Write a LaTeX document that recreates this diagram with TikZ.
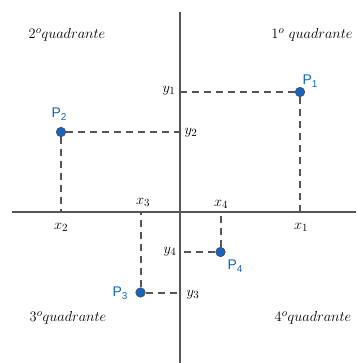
\documentclass[tikz,border=0pt]{standalone}
\usepackage{fontspec}
\newfontfamily\pfont{Liberation Sans}
\definecolor{axisgray}{HTML}{555555}
\definecolor{ptblue}{HTML}{1565C0}
\begin{document}
\begin{tikzpicture}[x=1pt,y=-1pt,
  axisline/.style={draw=axisgray,line width=2pt},
  guide/.style={draw=axisgray,line width=2pt,dash pattern=on 7pt off 5pt},
  pt/.style={circle,fill=ptblue,draw=black!70,line width=0.6pt,minimum size=9.5pt,inner sep=0pt},
  lab/.style={inner sep=0pt,font=\fontsize{15}{18}\selectfont},
  plab/.style={inner sep=0pt,text=ptblue,font=\pfont\fontsize{14}{16}\selectfont},
]
\useasboundingbox (0,0) rectangle (356,363);
% axes
\coordinate (xl) at (12,212);
\coordinate (xr) at (356,212);
\coordinate (yt) at (180,12);
\coordinate (yb) at (180,363);
\draw[axisline] (xl) -- (xr);
\draw[axisline] (yt) -- (yb);
% feet on the axes
\coordinate (f1x) at (300,212); \coordinate (f1y) at (180,92);
\coordinate (f2x) at (61,212);  \coordinate (f2y) at (180,132);
\coordinate (f3x) at (140.5,212); \coordinate (f3y) at (180,292.5);
\coordinate (f4x) at (220.5,212); \coordinate (f4y) at (180,252);
% points
\node[pt] (P1) at (300,92) {};
\node[pt] (P2) at (61,132) {};
\node[pt] (P3) at (140.5,292.5) {};
\node[pt] (P4) at (220.5,252) {};
% guide lines
\draw[guide] (P1) -- (f1y);
\draw[guide] (P1) -- (f1x);
\draw[guide] (P2) -- (f2y);
\draw[guide] (P2) -- (f2x);
\draw[guide] (P3) -- (f3y);
\draw[guide] (P3) -- (f3x);
\draw[guide] (P4) -- (f4y);
\draw[guide] (P4) -- (f4x);
% point labels
\node[plab] (L1) at (310,81) {P\raisebox{-0.45ex}{\fontsize{10}{10}\selectfont 1}};
\node[plab] (L2) at (59,114) {P\raisebox{-0.45ex}{\fontsize{10}{10}\selectfont 2}};
\node[plab] (L3) at (120,293) {P\raisebox{-0.45ex}{\fontsize{10}{10}\selectfont 3}};
\node[plab] (L4) at (235,266) {P\raisebox{-0.45ex}{\fontsize{10}{10}\selectfont 4}};
% axis value labels
\node[lab] (y1) at (169,91) {$y_1$};
\node[lab] (y2) at (191,133) {$y_2$};
\node[lab] (y3) at (193,295) {$y_3$};
\node[lab] (y4) at (170,252) {$y_4$};
\node[lab] (x1) at (301,227) {$x_1$};
\node[lab] (x2) at (61,227) {$x_2$};
\node[lab] (x3) at (143,202) {$x_3$};
\node[lab] (x4) at (221,204) {$x_4$};
% quadrant labels
\node[lab] (q2) at (67,35) {$2^o quadrante$};
\node[lab] (q1) at (312,35) {$1^o\ quadrante$};
\node[lab] (q3) at (68,318) {$3^o quadrante$};
\node[lab] (q4) at (313,318) {$4^o quadrante$};
\end{tikzpicture}
\end{document}
